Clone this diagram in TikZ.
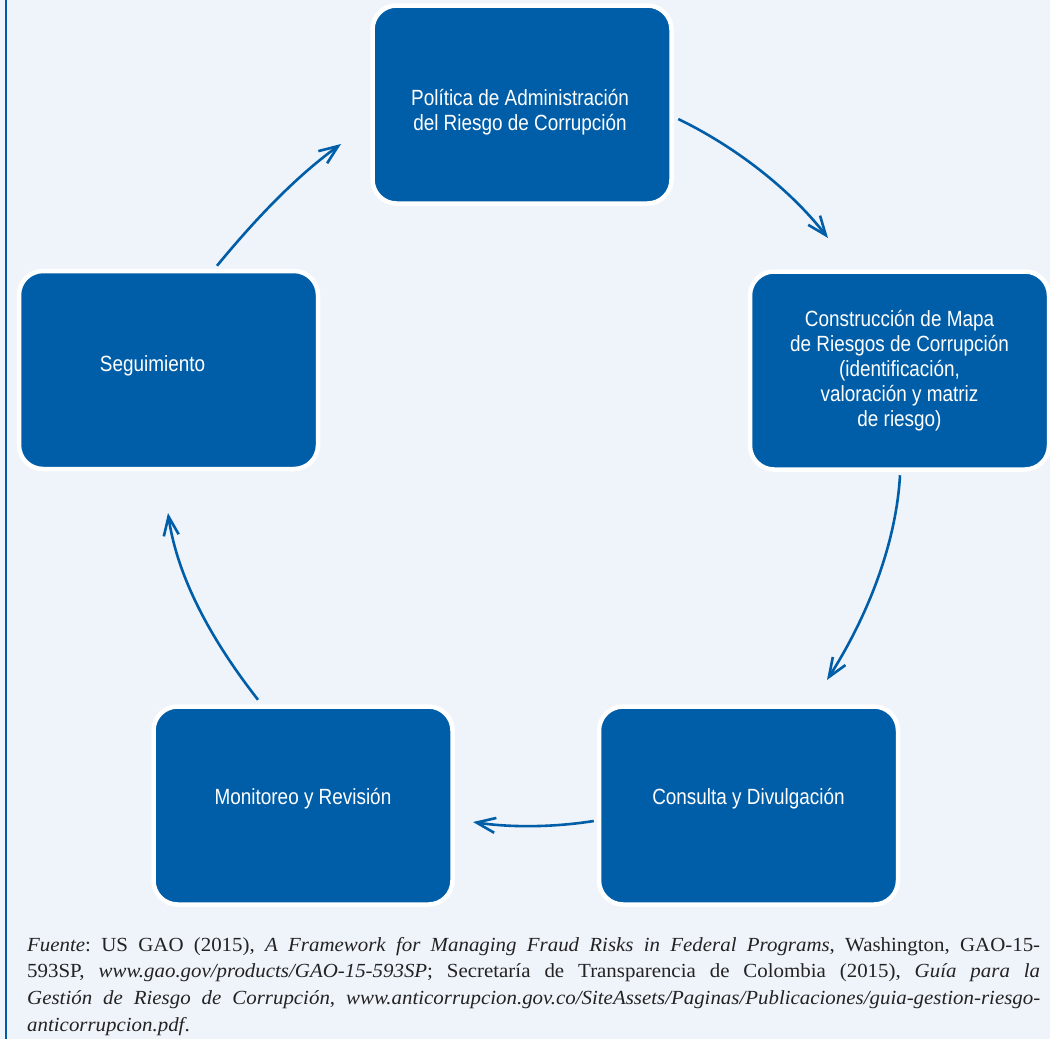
\documentclass[tikz,border=0pt]{standalone}
\usepackage{fontspec}
\setmainfont{Liberation Serif}[FakeStretch=1.045]
\newfontfamily\boxfont{Liberation Sans}[FakeStretch=0.86]
\usetikzlibrary{arrows.meta}
\definecolor{boxblue}{RGB}{0,94,168}
\definecolor{pagebg}{RGB}{239,243,250}
\definecolor{notegray}{RGB}{35,35,35}
\newcommand\fullline[1]{\makebox[1013pt][s]{#1}}
\frenchspacing

\begin{document}
\begin{tikzpicture}[x=1pt,y=-1pt,
  stagebox/.style={draw=white, line width=4.5pt, fill=boxblue, rounded corners=24pt,
    minimum width=299pt, minimum height=198pt, inner sep=0pt},
  stagetext/.style={text=white, font=\boxfont\fontsize{22}{25}\selectfont, align=center, inner sep=0pt},
  flow/.style={draw=boxblue, line width=2.6pt, -{Straight Barb[length=19pt,width=15pt]}}
]
% page background and left rule
\fill[pagebg] (0,0) rectangle (1050,1039);
\useasboundingbox (0,0) rectangle (1050,1039);
\draw[boxblue, line width=1.3pt] (6,0) -- (6,1039);

% the five stages
\node[stagebox] (pol)  at (522,104.5) {};
\node[stagebox] (con)  at (899.5,370.5) {};
\node[stagebox] (cons) at (748.5,805.5) {};
\node[stagebox] (mon)  at (303,805.5) {};
\node[stagebox] (seg)  at (168.5,370) {};

\node[stagetext] (polt)  at (520,112.5) {Política de Administración\\del Riesgo de Corrupción};
\node[stagetext] (cont)  at (899.5,371) {Construcción de Mapa\\de Riesgos de Corrupción\\(identificación,\\valoración y matriz\\de riesgo)};
\node[stagetext] (const) at (748.5,798.5) {Consulta y Divulgación};
\node[stagetext] (mont)  at (303,798.5) {Monitoreo y Revisión};
\node[stagetext] (segt)  at (152.5,365.5) {Seguimiento};

% connector ends
\coordinate (a1s) at ([xshift=48.5pt,yshift=3pt]seg.north);
\coordinate (a1e) at (341,144);
\coordinate (a2s) at ([xshift=4.5pt,yshift=-14.5pt]pol.east);
\coordinate (a2e) at (828,238);
\coordinate (a3s) at ([xshift=0.5pt,yshift=-3.5pt]con.south);
\coordinate (a3e) at (827,680);
\coordinate (a4s) at ([xshift=-3pt,yshift=-15.5pt]cons.west);
\coordinate (a4e) at (473,822);
\coordinate (a5s) at ([xshift=-45pt,yshift=4.5pt]mon.north);
\coordinate (a5e) at (168,513);

% cycle arrows
\draw[flow] (a1s) .. controls (253,222) and (294,178) .. (a1e);
\draw[flow] (a2s) .. controls (734,146) and (789,188) .. (a2e);
\draw[flow] (a3s) .. controls (896,546) and (866,619) .. (a3e);
\draw[flow] (a4s) .. controls (556,827) and (513,828) .. (a4e);
\draw[flow] (a5s) .. controls (216,646) and (178,582) .. (a5e);

% source note
\node[anchor=north west, inner sep=0pt, text=notegray, align=left,
      font=\fontsize{20}{26.7}\selectfont] (note) at (27,937) {%
\fullline{\textit{Fuente}: US GAO (2015), \textit{A Framework for Managing Fraud Risks in Federal Programs}, Washington, GAO-15-}\\
\fullline{593SP, \textit{www.gao.gov/products/GAO-15-593SP}; Secretaría de Transparencia de Colombia (2015), \textit{Guía para la}}\\
\fullline{\textit{Gestión de Riesgo de Corrupción}, \textit{www.anticorrupcion.gov.co/SiteAssets/Paginas/Publicaciones/guia-gestion-riesgo-}}\\
\textit{anticorrupcion.pdf}.};
\end{tikzpicture}
\end{document}
